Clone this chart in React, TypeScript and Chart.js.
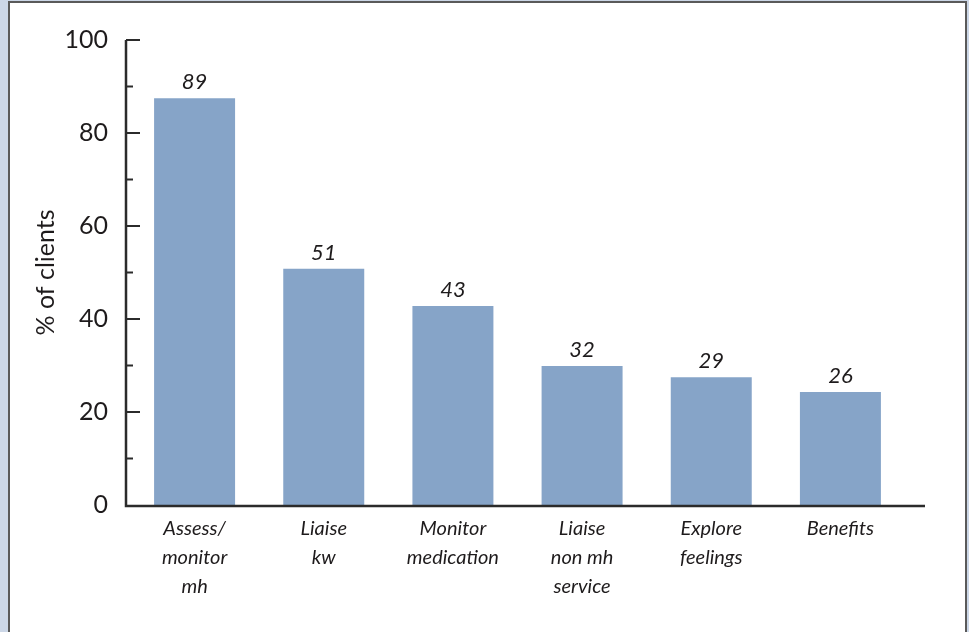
import React, { useEffect, useRef } from "react";
import { Chart, registerables } from "chart.js";

Chart.register(...registerables);

const categories: string[][] = [
  ["Assess/", "monitor", "mh"],
  ["Liaise", "kw"],
  ["Monitor", "medication"],
  ["Liaise", "non mh", "service"],
  ["Explore", "feelings"],
  ["Benefits"],
];
const barValues: number[] = [87.5, 50.8, 42.8, 29.9, 27.5, 24.3];
const valueLabels: string[] = ["89", "51", "43", "32", "29", "26"];
const yTicks: number[] = [0, 20, 40, 60, 80, 100];
const yMinorTicks: number[] = [10, 30, 50, 70, 90];
const yTitle = "% of clients";

const FONT = "Lato, 'Open Sans', sans-serif";
const INK = "#1e1b1c";

const decorPlugin = {
  id: "decor",
  afterDatasetsDraw(chart: any) {
    const ctx = chart.ctx;
    const area = chart.chartArea;
    const y = chart.scales.y;
    const axisX = area.left - 4;
    const zeroY = y.getPixelForValue(0);
    ctx.save();
    ctx.strokeStyle = "#2b2b2b";
    ctx.lineWidth = 2.5;
    ctx.beginPath();
    ctx.moveTo(axisX, y.getPixelForValue(100));
    ctx.lineTo(axisX, zeroY + 1);
    ctx.lineTo(area.right + 20, zeroY + 1);
    ctx.stroke();
    ctx.lineWidth = 2;
    yTicks.forEach((v) => {
      if (v === 0) return;
      const py = y.getPixelForValue(v);
      ctx.beginPath();
      ctx.moveTo(axisX, py);
      ctx.lineTo(axisX + 14, py);
      ctx.stroke();
    });
    yMinorTicks.forEach((v) => {
      const py = y.getPixelForValue(v);
      ctx.beginPath();
      ctx.moveTo(axisX, py);
      ctx.lineTo(axisX + 7, py);
      ctx.stroke();
    });
    // value labels
    const meta = chart.getDatasetMeta(0);
    ctx.fillStyle = INK;
    ctx.font = `italic 22px ${FONT}`;
    ctx.textAlign = "center";
    ctx.textBaseline = "alphabetic";
    meta.data.forEach((bar: any, i: number) => {
      ctx.fillText(valueLabels[i], bar.x, bar.y - 9);
    });
    ctx.restore();
  },
};

export default function App() {
  const ref = useRef<HTMLCanvasElement | null>(null);
  useEffect(() => {
    if (!ref.current) return;
    const chart = new Chart(ref.current, {
      type: "bar",
      data: {
        labels: categories,
        datasets: [
          {
            data: barValues,
            backgroundColor: "#86a4c8",
            borderWidth: 0,
            categoryPercentage: 1,
            barPercentage: 0.627,
          },
        ],
      },
      options: {
        animation: false,
        responsive: false,
        devicePixelRatio: 1,
        layout: { padding: { top: 40, right: 64, left: 0, bottom: 0 } },
        plugins: {
          legend: { display: false },
          tooltip: { enabled: false },
          title: { display: false },
        },
        scales: {
          x: {
            grid: { display: false, drawTicks: false },
            border: { display: false },
            ticks: {
              color: INK,
              font: { family: FONT, size: 20, style: "italic", lineHeight: 1.45 },
              padding: 9,
              maxRotation: 0,
              autoSkip: false,
            },
            afterFit: (s: any) => {
              s.height = 127;
            },
          },
          y: {
            min: 0,
            max: 100,
            grid: { display: false, drawTicks: false },
            border: { display: false },
            ticks: {
              stepSize: 20,
              color: INK,
              font: { family: FONT, size: 25 },
              padding: 22,
            },
            title: {
              display: true,
              text: yTitle,
              color: INK,
              font: { family: FONT, size: 25 },
              padding: { top: 31, bottom: 0 },
            },
            afterFit: (s: any) => {
              s.width = 130;
            },
          },
        },
      },
      plugins: [decorPlugin],
    });
    return () => chart.destroy();
  }, []);

  return (
    <div
      style={{
        position: "fixed",
        left: 0,
        top: 0,
        width: 969,
        height: 632,
        background: "#ccd7e7",
        overflow: "hidden",
      }}
    >
      <div
        style={{
          position: "absolute",
          left: 8,
          top: 1,
          width: 955,
          height: 660,
          background: "#ffffff",
          border: "2px solid #5a5a5a",
        }}
      />
      <canvas
        ref={ref}
        width={969}
        height={632}
        style={{ position: "absolute", left: 0, top: 0, width: 969, height: 632 }}
      />
    </div>
  );
}
